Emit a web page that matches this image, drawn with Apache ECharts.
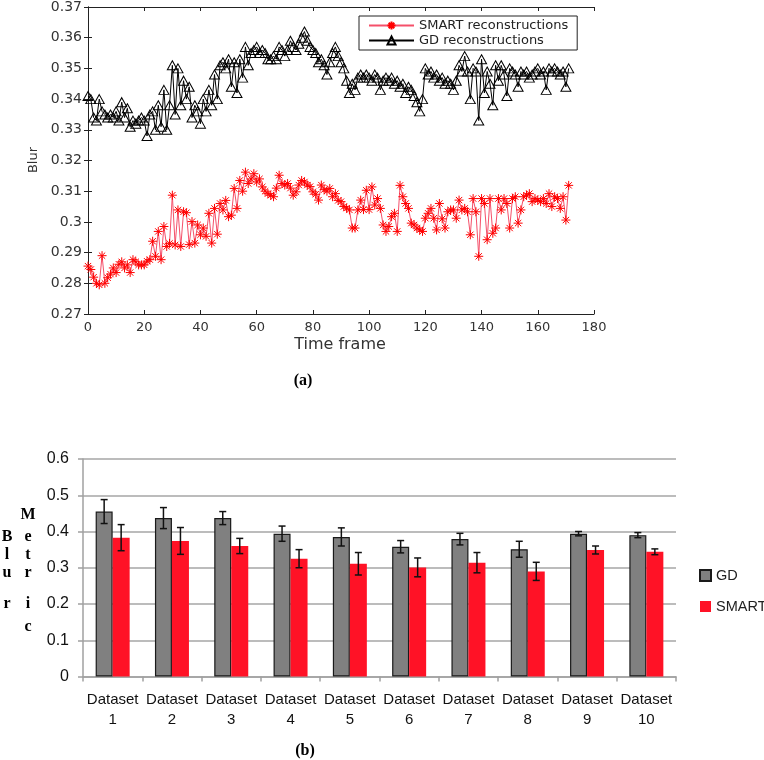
<!DOCTYPE html>
<html><head><meta charset="utf-8">
<script src="https://cdn.jsdelivr.net/npm/echarts@6/dist/echarts.min.js"></script>
<style>html,body{margin:0;padding:0;background:#fff}#c{width:764px;height:760px}</style>
</head><body><div id="c"></div>
<script>
// ---------- Panel (a) data: blur per time frame (frames 0..171) ----------
const gdBlur = [
0.341,0.340,0.334,0.333,0.340,0.336,0.335,0.334,0.335,0.334,
0.336,0.333,0.339,0.334,0.337,0.331,0.333,0.332,0.333,0.334,
0.333,0.328,0.335,0.336,0.330,0.338,0.331,0.343,0.330,0.338,
0.351,0.335,0.350,0.338,0.346,0.340,0.344,0.334,0.338,0.336,
0.332,0.340,0.336,0.343,0.338,0.348,0.340,0.351,0.352,0.350,
0.353,0.344,0.352,0.342,0.353,0.347,0.357,0.351,0.355,0.356,
0.357,0.355,0.356,0.355,0.353,0.353,0.354,0.353,0.357,0.356,
0.354,0.356,0.359,0.357,0.356,0.358,0.360,0.362,0.359,0.357,
0.356,0.355,0.352,0.353,0.351,0.348,0.352,0.355,0.357,0.354,
0.352,0.350,0.346,0.342,0.345,0.343,0.347,0.348,0.347,0.348,
0.347,0.346,0.348,0.347,0.343,0.346,0.347,0.346,0.347,0.345,
0.346,0.344,0.345,0.342,0.344,0.343,0.341,0.339,0.336,0.340,
0.350,0.348,0.349,0.347,0.348,0.346,0.347,0.345,0.346,0.345,
0.343,0.346,0.351,0.349,0.354,0.349,0.340,0.350,0.349,0.333,
0.353,0.342,0.349,0.345,0.338,0.351,0.346,0.351,0.348,0.341,
0.350,0.349,0.348,0.344,0.349,0.348,0.349,0.347,0.348,0.349,
0.350,0.348,0.349,0.343,0.350,0.349,0.350,0.349,0.348,0.349,
0.344,0.350];
const smartBlur = [
0.2856,0.2845,0.2820,0.2800,0.2795,0.2890,0.2800,0.2818,0.2830,0.2850,
0.2835,0.2862,0.2870,0.2850,0.2860,0.2835,0.2877,0.2870,0.2860,0.2860,
0.2860,0.2872,0.2877,0.2937,0.2888,0.2969,0.2877,0.2985,0.2920,0.2930,
0.3087,0.2925,0.3039,0.2920,0.3033,0.3030,0.2926,0.3001,0.2931,0.2990,
0.2958,0.2980,0.2953,0.3028,0.2931,0.3044,0.2960,0.3060,0.3039,0.3070,
0.3017,0.3022,0.3109,0.3044,0.3135,0.3100,0.3162,0.3125,0.3140,0.3157,
0.3130,0.3140,0.3114,0.3100,0.3092,0.3087,0.3082,0.3110,0.3152,0.3125,
0.3120,0.3125,0.3110,0.3087,0.3098,0.3120,0.3135,0.3130,0.3120,0.3115,
0.3098,0.3090,0.3071,0.3120,0.3105,0.3100,0.3109,0.3082,0.3092,0.3070,
0.3066,0.3050,0.3045,0.3039,0.2980,0.2980,0.3039,0.3071,0.3040,0.3103,
0.3040,0.3114,0.3055,0.3076,0.3044,0.2990,0.2969,0.2985,0.3017,0.3028,
0.2969,0.3119,0.3082,0.3060,0.3044,0.2996,0.2990,0.2980,0.2974,0.2969,
0.3012,0.3028,0.3044,0.3012,0.2974,0.3060,0.3010,0.2980,0.3033,0.3039,
0.3039,0.3012,0.3071,0.3039,0.3044,0.3033,0.2958,0.3076,0.3033,0.2888,
0.3076,0.3060,0.2942,0.3076,0.2963,0.2980,0.3076,0.3039,0.3076,0.3060,
0.2980,0.3076,0.3082,0.2996,0.3039,0.3082,0.3087,0.3092,0.3066,0.3076,
0.3071,0.3066,0.3076,0.3060,0.3092,0.3050,0.3082,0.3076,0.3044,0.3082,
0.3006,0.3119];
const xTicksA = [0,20,40,60,80,100,120,140,160,180];
const yTicksA = [0.27,0.28,0.29,0.30,0.31,0.32,0.33,0.34,0.35,0.36,0.37];

// ---------- Panel (b) data ----------
const datasets = ['Dataset\n1','Dataset\n2','Dataset\n3','Dataset\n4','Dataset\n5','Dataset\n6','Dataset\n7','Dataset\n8','Dataset\n9','Dataset\n10'];
const gdMean   = [0.455,0.437,0.437,0.394,0.385,0.358,0.379,0.351,0.394,0.390];
const gdErr    = [0.033,0.029,0.018,0.021,0.025,0.017,0.016,0.022,0.006,0.007];
const smartMean= [0.383,0.374,0.360,0.325,0.311,0.301,0.314,0.290,0.349,0.344];
const smartErr = [0.036,0.037,0.021,0.025,0.031,0.026,0.028,0.025,0.011,0.008];
const yTicksB = [0,0.1,0.2,0.3,0.4,0.5,0.6];

const BAR_W = 17;
const star = 'path://M0 5L10 5M5 0L5 10M1.5 1.5L8.5 8.5M8.5 1.5L1.5 8.5';
const fa = 'DejaVu Sans';

function errSeries(means, errs, side) {
  return {
    type: 'custom', xAxisIndex: 2, yAxisIndex: 2, z: 5, silent: true,
    data: means.map((m, i) => [i, m - errs[i], m + errs[i]]),
    renderItem(params, api) {
      const lo = api.coord([api.value(0), api.value(1)]);
      const hi = api.coord([api.value(0), api.value(2)]);
      const x = lo[0] + side * BAR_W / 2;
      const cap = 3.5;
      const st = { stroke: '#111', lineWidth: 1.5 };
      return { type: 'group', children: [
        { type: 'line', shape: { x1: x, y1: lo[1], x2: x, y2: hi[1] }, style: st },
        { type: 'line', shape: { x1: x - cap, y1: lo[1], x2: x + cap, y2: lo[1] }, style: st },
        { type: 'line', shape: { x1: x - cap, y1: hi[1], x2: x + cap, y2: hi[1] }, style: st }
      ]};
    }
  };
}

const axA = { min: xTicksA[0], max: xTicksA[xTicksA.length-1], interval: xTicksA[1]-xTicksA[0] };
const ayA = { min: yTicksA[0], max: yTicksA[yTicksA.length-1], interval: 0.01 };
const lineC = '#222';

const chart = echarts.init(document.getElementById('c'), null, { renderer: 'canvas' });
chart.setOption({
  animation: false,
  backgroundColor: '#fff',
  grid: [
    { left: 88, top: 4, width: 506, height: 310 },
    { left: 83, top: 459, width: 593, height: 217.5 }
  ],
  xAxis: [
    { type: 'value', gridIndex: 0, ...axA, position: 'bottom',
      axisLine: { show: true, lineStyle: { color: lineC } },
      axisTick: { show: true, inside: true, length: 4, lineStyle: { color: lineC } },
      axisLabel: { margin: 7, fontFamily: fa, fontSize: 13, color: '#333' },
      splitLine: { show: false } },
    { type: 'value', gridIndex: 0, ...axA, position: 'top',
      axisLine: { show: true, lineStyle: { color: lineC } },
      axisTick: { show: true, inside: true, length: 4, lineStyle: { color: lineC } },
      axisLabel: { show: false }, splitLine: { show: false } },
    { type: 'category', gridIndex: 1, data: datasets, boundaryGap: true,
      axisLine: { show: true, lineStyle: { color: '#a0a0a0', width: 1.5 } },
      axisTick: { show: true, length: 5, lineStyle: { color: '#a0a0a0', width: 1.5 } },
      axisLabel: { interval: 0, margin: 13, fontFamily: 'Liberation Sans', fontSize: 15, lineHeight: 20, color: '#111' } }
  ],
  yAxis: [
    { type: 'value', gridIndex: 0, ...ayA, position: 'left',
      axisLine: { show: true, lineStyle: { color: lineC } },
      axisTick: { show: true, inside: true, length: 4, lineStyle: { color: lineC } },
      axisLabel: { margin: 6, fontFamily: fa, fontSize: 14, color: '#333',
        formatter: v => String(+v.toFixed(2)) },
      splitLine: { show: false } },
    { type: 'value', gridIndex: 0, ...ayA, position: 'right',
      axisLine: { show: true, lineStyle: { color: lineC } },
      axisTick: { show: true, inside: true, length: 4, lineStyle: { color: lineC } },
      axisLabel: { show: false }, splitLine: { show: false } },
    { type: 'value', gridIndex: 1, min: yTicksB[0], max: yTicksB[yTicksB.length-1], interval: 0.1,
      axisLine: { show: true, lineStyle: { color: '#a0a0a0', width: 1.5 } },
      axisTick: { show: true, length: 5, lineStyle: { color: '#a0a0a0', width: 1.5 } },
      axisLabel: { margin: 14, fontFamily: 'Liberation Sans', fontSize: 16, color: '#111',
        formatter: v => String(+v.toFixed(1)) },
      splitLine: { show: true, lineStyle: { color: '#a6a6a6', width: 1.5 } } }
  ],
  legend: [
    { data: ['SMART reconstructions', 'GD reconstructions'], left: 359, top: 16, orient: 'vertical',
      borderColor: '#222', borderWidth: 1, backgroundColor: '#fff', padding: [3, 9, 3, 9], itemGap: 2,
      itemWidth: 45, itemHeight: 10, textStyle: { fontFamily: fa, fontSize: 13, color: '#222' } },
    { data: ['GD', 'SMART'], left: 699, top: 568, orient: 'vertical', itemGap: 16, padding: 0,
      itemWidth: 11, itemHeight: 11, icon: 'rect',
      textStyle: { fontFamily: 'Liberation Sans', fontSize: 14.5, color: '#222' } }
  ],
  series: [
    { name: 'SMART reconstructions', type: 'line', xAxisIndex: 0, yAxisIndex: 0,
      data: smartBlur.map((v, i) => [i, v]),
      symbol: star, symbolSize: 9, showSymbol: true,
      lineStyle: { color: '#f5506a', width: 1 },
      itemStyle: { color: '#ff0000', borderColor: '#ff0000', borderWidth: 1 } },
    { name: 'GD reconstructions', type: 'line', xAxisIndex: 0, yAxisIndex: 0,
      data: gdBlur.map((v, i) => [i, v]),
      symbol: 'triangle', symbolSize: [10, 9], showSymbol: true,
      lineStyle: { color: '#000', width: 1 },
      itemStyle: { color: 'rgba(255,255,255,0)', borderColor: '#000', borderWidth: 1 } },
    { name: 'GD', type: 'bar', xAxisIndex: 2, yAxisIndex: 2, data: gdMean,
      barWidth: BAR_W, barGap: '0%',
      itemStyle: { color: '#808080', borderColor: '#1a1a1a', borderWidth: 1.2 } },
    { name: 'SMART', type: 'bar', xAxisIndex: 2, yAxisIndex: 2, data: smartMean,
      barWidth: BAR_W, barGap: '0%',
      itemStyle: { color: '#ff1226' } },
    errSeries(gdMean, gdErr, -1),
    errSeries(smartMean, smartErr, 1)
  ],
  graphic: [
    { type: 'text', x: 34, y: 160, rotation: Math.PI / 2,
      style: { text: 'Blur', fontFamily: fa, fontSize: 13, fill: '#333', align: 'center', verticalAlign: 'middle' } },
    { type: 'text', x: 340, y: 345,
      style: { text: 'Time frame', fontFamily: fa, fontSize: 16, fill: '#333', align: 'center', verticalAlign: 'middle' } },
    { type: 'text', x: 303, y: 381,
      style: { text: '(a)', fontFamily: 'Liberation Serif', fontWeight: 'bold', fontSize: 16, fill: '#000', align: 'center', verticalAlign: 'middle' } },
    { type: 'text', x: 305, y: 751,
      style: { text: '(b)', fontFamily: 'Liberation Serif', fontWeight: 'bold', fontSize: 16, fill: '#000', align: 'center', verticalAlign: 'middle' } },
    ...[['B',537],['l',555],['u',573],['r',604]].map(([t, y]) => ({ type: 'text', x: 7, y,
      style: { text: t, fontFamily: 'Liberation Serif', fontWeight: 'bold', fontSize: 16, fill: '#000', align: 'center', verticalAlign: 'middle' } })),
    ...[['M',515],['e',537],['t',555],['r',573],['i',604],['c',627]].map(([t, y]) => ({ type: 'text', x: 28, y,
      style: { text: t, fontFamily: 'Liberation Serif', fontWeight: 'bold', fontSize: 16, fill: '#000', align: 'center', verticalAlign: 'middle' } }))
  ]
});
</script>
</body></html>
